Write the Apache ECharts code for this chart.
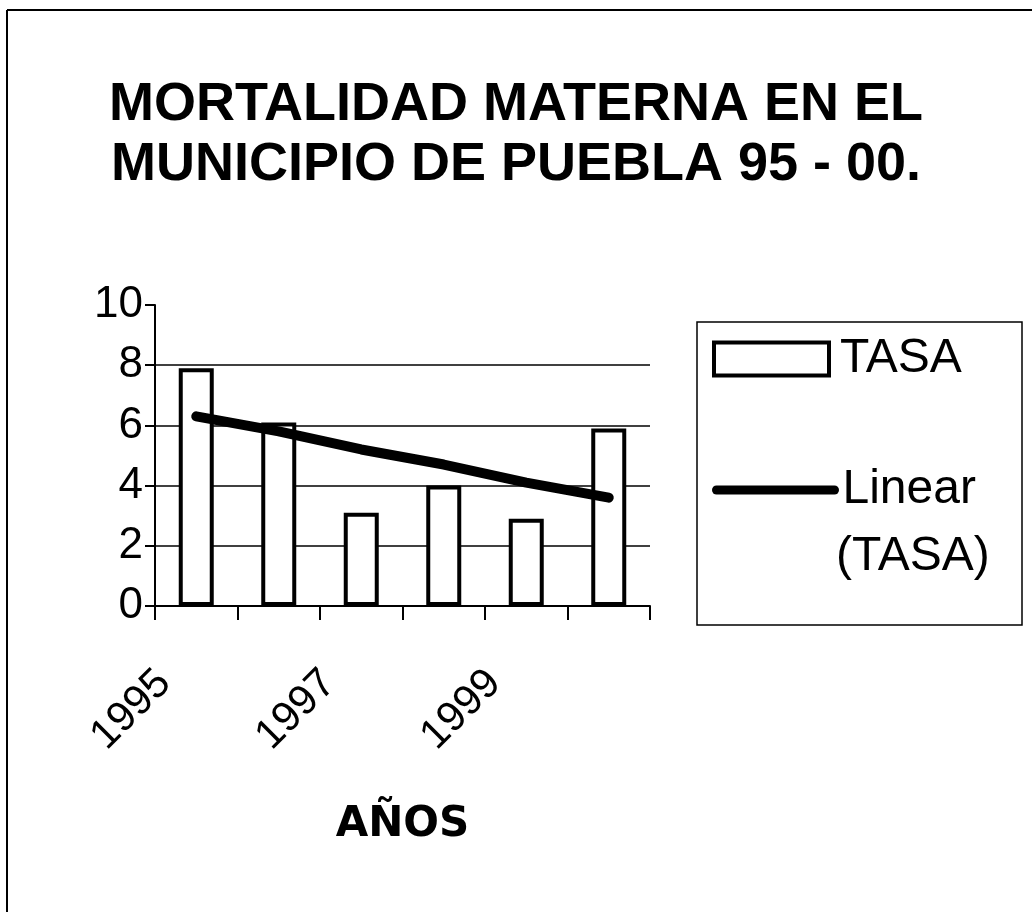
<!DOCTYPE html>
<html>
<head>
<meta charset="utf-8">
<title>Mortalidad materna Puebla 95-00</title>
<script src="https://cdn.jsdelivr.net/npm/echarts@6/dist/echarts.min.js"></script>
<style>
	html, body { margin: 0; padding: 0; background: #fff; }
	#chart { width: 1032px; height: 912px; }
</style>
</head>
<body>
<div id="chart"></div>
<script>
// datos
var years = ["1995", "1996", "1997", "1998", "1999", "2000"];
var tasa = [7.9, 6.1, 3.1, 4.0, 2.9, 5.9];
// linea de tendencia (Linear (TASA))
var tendencia = [6.3, 5.8, 5.2, 4.7, 4.1, 3.6];
var yTicks = [0, 2, 4, 6, 8, 10];

var font = "Liberation Sans";
var chart = echarts.init(document.getElementById("chart"));

chart.setOption({
	backgroundColor: "#fff",
	animation: false,
	title: {
		text: "MORTALIDAD MATERNA EN EL\nMUNICIPIO DE PUEBLA 95 - 00.",
		left: "center",
		top: 70,
		textStyle: {
			fontFamily: font,
			fontWeight: "bold",
			fontSize: 54,
			lineHeight: 60,
			color: "#000",
		},
	},
	grid: {
		left: 155,
		right: 382,
		top: 305,
		bottom: 306,
	},
	legend: [
		{
			// TASA
			orient: "vertical",
			left: 712,
			top: 335,
			itemWidth: 115,
			itemHeight: 33,
			padding: 0,
			textStyle: { fontFamily: font, fontSize: 48, color: "#000", padding: [0, 0, 0, 6] },
			data: [
				{
					name: "TASA",
					icon: "rect",
					itemStyle: { color: "#fff", borderColor: "#000", borderWidth: 4 },
				},
			],
		},
		{
			// Linear (TASA)
			orient: "vertical",
			left: 712,
			top: 466,
			itemWidth: 118,
			itemHeight: 33,
			padding: 0,
			textStyle: { fontFamily: font, fontSize: 48, color: "#000", padding: [0, 0, 0, 3] },
			data: [
				{
					name: "Linear (TASA)",
					lineStyle: { width: 9, color: "#000" },
					itemStyle: { color: "rgba(0,0,0,0)", borderWidth: 0 },
				},
			],
			formatter: function(name) {
				return name.split(" ")[0];
			},
		},
	],
	xAxis: {
		type: "category",
		data: years,
		boundaryGap: true,
		name: "AÑOS",
		nameLocation: "middle",
		nameGap: 198,
		nameTextStyle: {
			fontFamily: "DejaVu Sans",
			fontWeight: "bold",
			fontSize: 42,
			color: "#000",
		},
		axisLine: { lineStyle: { color: "#000", width: 2 } },
		axisTick: { show: true, interval: 0, length: 14, lineStyle: { color: "#000", width: 2 } },
		axisLabel: {
			interval: 1,
			rotate: 45,
			margin: 39,
			padding: [0, 45, 0, 0],
			fontFamily: font,
			fontSize: 42,
			color: "#000",
		},
		splitLine: { show: false },
	},
	yAxis: {
		type: "value",
		min: yTicks[0],
		max: yTicks[yTicks.length - 1],
		interval: 2,
		axisLine: { show: true, lineStyle: { color: "#000", width: 2 } },
		axisTick: { show: true, length: 10, lineStyle: { color: "#000", width: 2 } },
		axisLabel: {
			margin: 12,
			fontFamily: font,
			fontSize: 44,
			color: "#000",
		},
		splitLine: {
			show: true,
			lineStyle: {
				color: ["#000", "#000", "#000", "#000", "#000", "rgba(0,0,0,0)"],
				width: 1.5,
			},
		},
	},
	series: [
		{
			name: "TASA",
			type: "bar",
			data: tasa,
			barWidth: 35,
			itemStyle: {
				color: "#fff",
				borderColor: "#000",
				borderWidth: 4,
			},
		},
		{
			name: "Linear (TASA)",
			type: "line",
			data: tendencia,
			showSymbol: false,
			symbol: "none",
			itemStyle: { color: "#000" },
			lineStyle: {
				color: "#000",
				width: 10,
				cap: "round",
			},
			z: 3,
		},
	],
	graphic: [
		{
			type: "rect",
			shape: { x: 697, y: 322, width: 325, height: 303 },
			style: { fill: "none", stroke: "#000", lineWidth: 1.5 },
			silent: true,
		},
		{
			// segunda linea de la leyenda
			type: "text",
			left: 836,
			top: 533,
			style: {
				text: "(TASA)",
				fontFamily: font,
				fontSize: 48,
				fill: "#000",
			},
			silent: true,
		},
		{
			type: "line",
			shape: { x1: 7, y1: 10, x2: 1032, y2: 10 },
			style: { stroke: "#000", lineWidth: 2 },
			silent: true,
		},
		{
			type: "line",
			shape: { x1: 7, y1: 10, x2: 7, y2: 912 },
			style: { stroke: "#000", lineWidth: 2 },
			silent: true,
		},
	],
});
</script>
</body>
</html>
